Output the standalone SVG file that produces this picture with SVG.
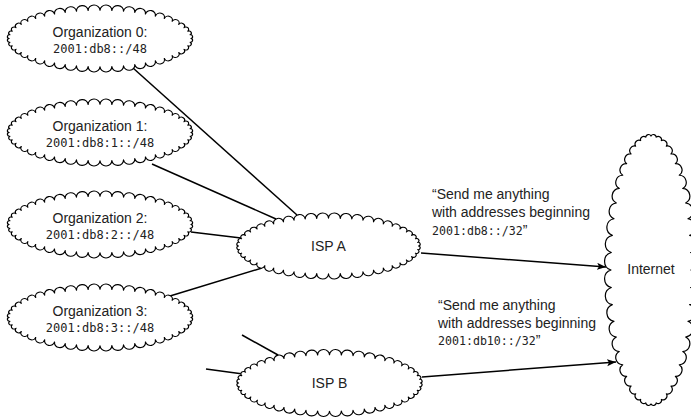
<svg xmlns="http://www.w3.org/2000/svg" xmlns:xlink="http://www.w3.org/1999/xlink" width="691" height="418" viewBox="0 0 691 418">
  <style>
    .cloud { fill: #fff; stroke: #000; stroke-width: 1.2; stroke-linejoin: round; }
    .link { fill: none; stroke: #000; stroke-width: 1.5; }
    .sans { font-family: "Liberation Sans", Arial, Helvetica, sans-serif; font-size: 14px; fill: #222; }
    .mono { font-family: "DejaVu Sans Mono", "Liberation Mono", monospace; font-size: 12px; fill: #222; }
    .mid { text-anchor: middle; }
  </style>
  <defs>
    <!-- scalloped outline, wide variant (centred on 0,0); radius 1 is stretched to a half circle per bump -->
    <path id="cloud-wide" d="M90,0 A1 1 0 0 1 89.23,4.05 A1 1 0 0 1 86.93,8.02 A1 1 0 0 1 83.15,11.86 A1 1 0 0 1 77.94,15.5 A1 1 0 0 1 71.4,18.87 A1 1 0 0 1 63.64,21.92 A1 1 0 0 1 54.79,24.59 A1 1 0 0 1 45,26.85 A1 1 0 0 1 34.44,28.64 A1 1 0 0 1 23.29,29.94 A1 1 0 0 1 11.75,30.73 A1 1 0 0 1 0,31 A1 1 0 0 1 -11.75,30.73 A1 1 0 0 1 -23.29,29.94 A1 1 0 0 1 -34.44,28.64 A1 1 0 0 1 -45,26.85 A1 1 0 0 1 -54.79,24.59 A1 1 0 0 1 -63.64,21.92 A1 1 0 0 1 -71.4,18.87 A1 1 0 0 1 -77.94,15.5 A1 1 0 0 1 -83.15,11.86 A1 1 0 0 1 -86.93,8.02 A1 1 0 0 1 -89.23,4.05 A1 1 0 0 1 -90,0 A1 1 0 0 1 -89.23,-4.05 A1 1 0 0 1 -86.93,-8.02 A1 1 0 0 1 -83.15,-11.86 A1 1 0 0 1 -77.94,-15.5 A1 1 0 0 1 -71.4,-18.87 A1 1 0 0 1 -63.64,-21.92 A1 1 0 0 1 -54.79,-24.59 A1 1 0 0 1 -45,-26.85 A1 1 0 0 1 -34.44,-28.64 A1 1 0 0 1 -23.29,-29.94 A1 1 0 0 1 -11.75,-30.73 A1 1 0 0 1 0,-31 A1 1 0 0 1 11.75,-30.73 A1 1 0 0 1 23.29,-29.94 A1 1 0 0 1 34.44,-28.64 A1 1 0 0 1 45,-26.85 A1 1 0 0 1 54.79,-24.59 A1 1 0 0 1 63.64,-21.92 A1 1 0 0 1 71.4,-18.87 A1 1 0 0 1 77.94,-15.5 A1 1 0 0 1 83.15,-11.86 A1 1 0 0 1 86.93,-8.02 A1 1 0 0 1 89.23,-4.05 A1 1 0 0 1 90,0 Z"/>
    <!-- scalloped outline, tall variant (centred on 0,0) -->
    <path id="cloud-tall" d="M40,0 A9.1 9.1 0 0 1 39.66,17.49 A8.95 8.95 0 0 1 38.64,34.68 A8.67 8.67 0 0 1 36.96,51.28 A8.26 8.26 0 0 1 34.64,67 A7.73 7.73 0 0 1 31.73,81.57 A7.08 7.08 0 0 1 28.28,94.75 A6.35 6.35 0 0 1 24.35,106.31 A5.55 5.55 0 0 1 20,116.05 A4.71 4.71 0 0 1 15.31,123.8 A3.9 3.9 0 0 1 10.35,129.43 A3.2 3.2 0 0 1 5.22,132.85 A2.78 2.78 0 0 1 0,134 A2.78 2.78 0 0 1 -5.22,132.85 A3.2 3.2 0 0 1 -10.35,129.43 A3.9 3.9 0 0 1 -15.31,123.8 A4.71 4.71 0 0 1 -20,116.05 A5.55 5.55 0 0 1 -24.35,106.31 A6.35 6.35 0 0 1 -28.28,94.75 A7.08 7.08 0 0 1 -31.73,81.57 A7.73 7.73 0 0 1 -34.64,67 A8.26 8.26 0 0 1 -36.96,51.28 A8.67 8.67 0 0 1 -38.64,34.68 A8.95 8.95 0 0 1 -39.66,17.49 A9.1 9.1 0 0 1 -40,0 A9.1 9.1 0 0 1 -39.66,-17.49 A8.95 8.95 0 0 1 -38.64,-34.68 A8.67 8.67 0 0 1 -36.96,-51.28 A8.26 8.26 0 0 1 -34.64,-67 A7.73 7.73 0 0 1 -31.73,-81.57 A7.08 7.08 0 0 1 -28.28,-94.75 A6.35 6.35 0 0 1 -24.35,-106.31 A5.55 5.55 0 0 1 -20,-116.05 A4.71 4.71 0 0 1 -15.31,-123.8 A3.9 3.9 0 0 1 -10.35,-129.43 A3.2 3.2 0 0 1 -5.22,-132.85 A2.78 2.78 0 0 1 0,-134 A2.78 2.78 0 0 1 5.22,-132.85 A3.2 3.2 0 0 1 10.35,-129.43 A3.9 3.9 0 0 1 15.31,-123.8 A4.71 4.71 0 0 1 20,-116.05 A5.55 5.55 0 0 1 24.35,-106.31 A6.35 6.35 0 0 1 28.28,-94.75 A7.08 7.08 0 0 1 31.73,-81.57 A7.73 7.73 0 0 1 34.64,-67 A8.26 8.26 0 0 1 36.96,-51.28 A8.67 8.67 0 0 1 38.64,-34.68 A8.95 8.95 0 0 1 39.66,-17.49 A9.1 9.1 0 0 1 40,0 Z"/>
    <marker id="arrow" markerUnits="userSpaceOnUse" markerWidth="10" markerHeight="8" refX="9" refY="3.5" orient="auto">
      <path d="M0,0 L9,3.5 L0,7 L2,3.5 Z" fill="#000"/>
    </marker>
  </defs>

  <!-- links between networks -->
  <g id="connectors">
    <line class="link" x1="133" y1="68" x2="297" y2="215"/>
    <line class="link" x1="152" y1="164" x2="276" y2="219"/>
    <line class="link" x1="191" y1="232" x2="241" y2="238"/>
    <line class="link" x1="170" y1="296" x2="262" y2="268"/>
    <line class="link" x1="242" y1="335" x2="278" y2="355"/>
    <line class="link" x1="206" y1="369" x2="243" y2="374"/>
    <line class="link" x1="421" y1="253" x2="606" y2="267" marker-end="url(#arrow)"/>
    <line class="link" x1="422" y1="377" x2="616" y2="362" marker-end="url(#arrow)"/>
    <!-- announcements arriving from the right -->
    <line class="link" x1="710" y1="229" x2="688" y2="229" marker-end="url(#arrow)"/>
    <line class="link" x1="710" y1="249" x2="688" y2="249" marker-end="url(#arrow)"/>
    <line class="link" x1="710" y1="269" x2="688" y2="269" marker-end="url(#arrow)"/>
    <line class="link" x1="710" y1="289" x2="688" y2="289" marker-end="url(#arrow)"/>
    <line class="link" x1="710" y1="308" x2="688" y2="308" marker-end="url(#arrow)"/>
    <line class="link" x1="710" y1="326" x2="688" y2="326" marker-end="url(#arrow)"/>
  </g>

  <g id="org0">
    <use href="#cloud-wide" class="cloud" transform="translate(100,38.5) scale(1.01,0.91)"/>
    <text class="sans mid" x="100" y="36.5">Organization 0:</text>
    <text class="mono mid" x="100" y="52.5">2001:db8::/48</text>
  </g>
  <g id="org1">
    <use href="#cloud-wide" class="cloud" transform="translate(100,132.5) scale(1.01,0.91)"/>
    <text class="sans mid" x="100" y="130.5">Organization 1:</text>
    <text class="mono mid" x="100" y="146.5">2001:db8:1::/48</text>
  </g>
  <g id="org2">
    <use href="#cloud-wide" class="cloud" transform="translate(100,224.5) scale(1.01,0.91)"/>
    <text class="sans mid" x="100" y="222.5">Organization 2:</text>
    <text class="mono mid" x="100" y="238.5">2001:db8:2::/48</text>
  </g>
  <g id="org3">
    <use href="#cloud-wide" class="cloud" transform="translate(100,317.5) scale(1.01,0.91)"/>
    <text class="sans mid" x="100" y="315.5">Organization 3:</text>
    <text class="mono mid" x="100" y="331.5">2001:db8:3::/48</text>
  </g>
  <g id="isp-a">
    <use href="#cloud-wide" class="cloud" transform="translate(328.5,246) scale(1.0,0.9)"/>
    <text class="sans mid" x="328.5" y="251">ISP A</text>
  </g>
  <g id="isp-b">
    <use href="#cloud-wide" class="cloud" transform="translate(329.5,383) scale(1.01,0.91)"/>
    <text class="sans mid" x="329.5" y="388">ISP B</text>
  </g>
  <g id="internet">
    <use href="#cloud-tall" class="cloud" transform="translate(651,270)"/>
    <text class="sans mid" x="651" y="274">Internet</text>
  </g>

  <!-- route announcements -->
  <g id="announce-a">
    <text class="sans" x="432" y="199">“Send me anything</text>
    <text class="sans" x="432" y="216.5">with addresses beginning</text>
    <text class="sans" x="432" y="234.5"><tspan class="mono" style="font-size:11.6px">2001:db8::/32</tspan>”</text>
  </g>
  <g id="announce-b">
    <text class="sans" x="438" y="310">“Send me anything</text>
    <text class="sans" x="438" y="327.5">with addresses beginning</text>
    <text class="sans" x="438" y="345"><tspan class="mono" style="font-size:11.6px">2001:db10::/32</tspan>”</text>
  </g>
</svg>
